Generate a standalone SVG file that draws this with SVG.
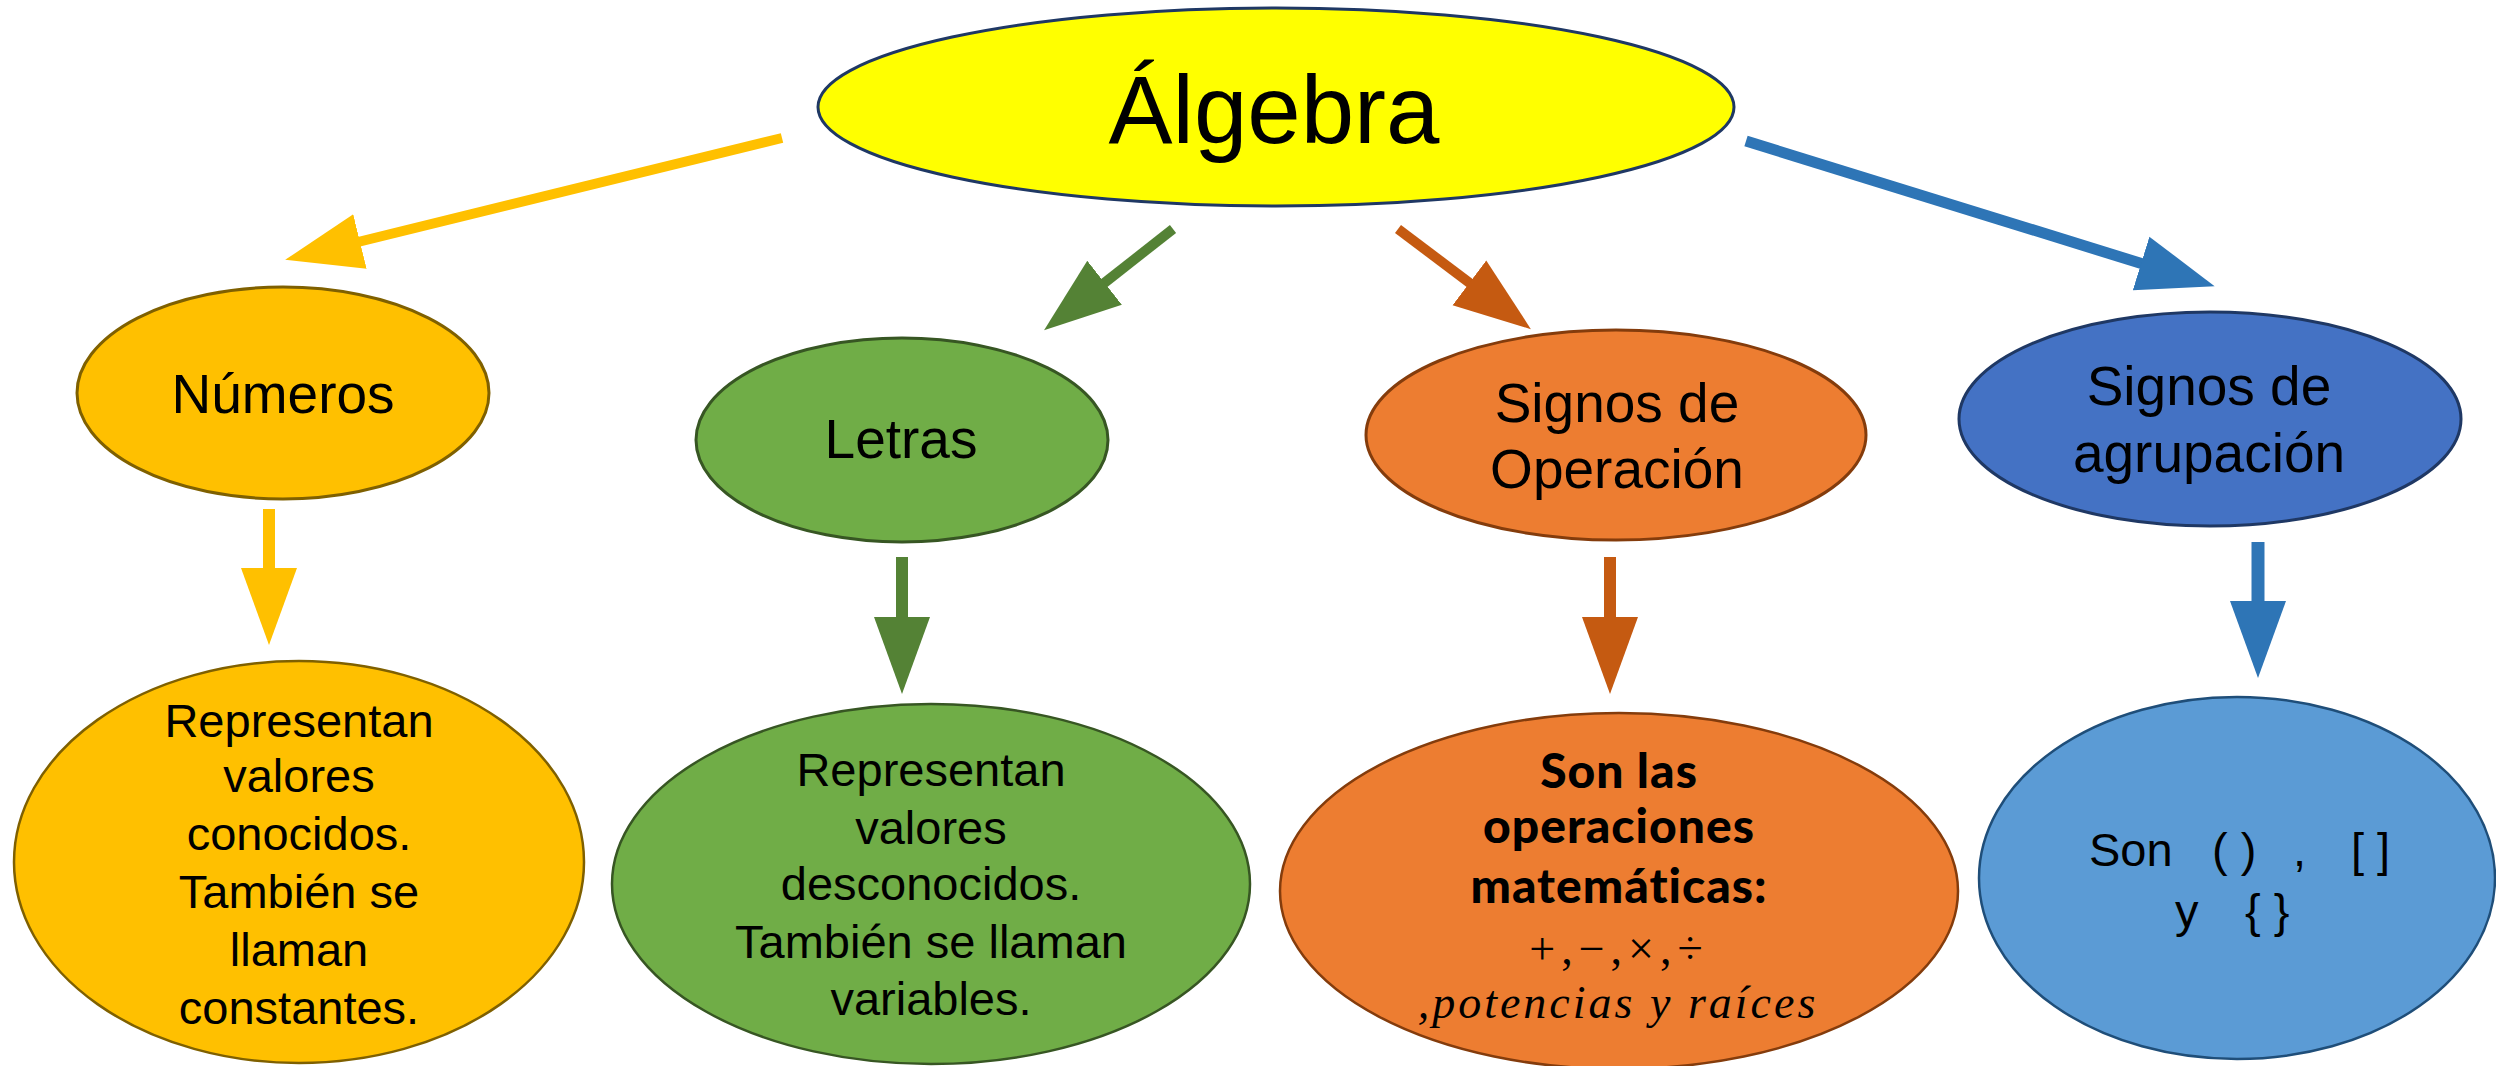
<svg xmlns="http://www.w3.org/2000/svg" width="2496" height="1066" viewBox="0 0 2496 1066">
<style>
.t{font-family:"Liberation Sans",Arial,sans-serif;fill:#000;text-anchor:middle}
.big{font-size:96px}
.mid{font-size:55px}
.sm{font-size:47px}
.bold{font-family:Lato,"Open Sans",sans-serif;font-weight:900;font-size:48px;letter-spacing:1px;fill:#000;text-anchor:middle}
.math{font-family:"Liberation Serif","DejaVu Serif",serif;font-size:46px;fill:#000;text-anchor:middle}
.conn line{fill:none;stroke-linecap:butt}
</style>
<defs>
<marker id="hY" markerUnits="userSpaceOnUse" markerWidth="80" markerHeight="60" viewBox="0 -30 80 60" refX="2" refY="0" orient="auto"><path d="M0,-28 L77,0 L0,28 z" fill="#FFC000"/></marker>
<marker id="hG" markerUnits="userSpaceOnUse" markerWidth="80" markerHeight="60" viewBox="0 -30 80 60" refX="2" refY="0" orient="auto"><path d="M0,-28 L77,0 L0,28 z" fill="#548235"/></marker>
<marker id="hO" markerUnits="userSpaceOnUse" markerWidth="80" markerHeight="60" viewBox="0 -30 80 60" refX="2" refY="0" orient="auto"><path d="M0,-28 L77,0 L0,28 z" fill="#C55A11"/></marker>
<marker id="hB" markerUnits="userSpaceOnUse" markerWidth="80" markerHeight="60" viewBox="0 -30 80 60" refX="2" refY="0" orient="auto"><path d="M0,-28 L77,0 L0,28 z" fill="#2E75B6"/></marker>
</defs>
<rect width="2496" height="1066" fill="#fff"/>

<g id="connectors" class="conn">
<line x1="782" y1="138" x2="358" y2="242" stroke="#FFC000" stroke-width="10" marker-end="url(#hY)"/>
<line x1="1173" y1="229" x2="1103" y2="284" stroke="#548235" stroke-width="10" marker-end="url(#hG)"/>
<line x1="1398" y1="229" x2="1471" y2="284" stroke="#C55A11" stroke-width="10" marker-end="url(#hO)"/>
<line x1="1746" y1="141" x2="2143" y2="264" stroke="#2E75B6" stroke-width="11" marker-end="url(#hB)"/>
<line x1="269" y1="509" x2="269" y2="570" stroke="#FFC000" stroke-width="12" marker-end="url(#hY)"/>
<line x1="902" y1="557" x2="902" y2="619" stroke="#548235" stroke-width="12" marker-end="url(#hG)"/>
<line x1="1610" y1="557" x2="1610" y2="619" stroke="#C55A11" stroke-width="12" marker-end="url(#hO)"/>
<line x1="2258" y1="542" x2="2258" y2="603" stroke="#2E75B6" stroke-width="13" marker-end="url(#hB)"/>
</g>

<g id="algebra">
<ellipse cx="1276" cy="107" rx="458" ry="99" fill="#FFFF00" stroke="#1F3864" stroke-width="3"/>
<text class="t big" x="1274" y="143">Álgebra</text>
</g>

<g id="numeros">
<ellipse cx="283" cy="393" rx="206" ry="106" fill="#FFC000" stroke="#7F6000" stroke-width="3"/>
<text class="t mid" x="283" y="413">Números</text>
</g>

<g id="letras">
<ellipse cx="902" cy="440" rx="206" ry="102" fill="#70AD47" stroke="#375623" stroke-width="3"/>
<text class="t mid" x="901" y="458">Letras</text>
</g>

<g id="signos-operacion">
<ellipse cx="1616" cy="435" rx="250" ry="105" fill="#ED7D31" stroke="#843C0C" stroke-width="3"/>
<text class="t mid" x="1617" y="422">Signos de</text>
<text class="t mid" x="1617" y="488">Operación</text>
</g>

<g id="signos-agrupacion">
<ellipse cx="2210" cy="419" rx="251" ry="107" fill="#4472C4" stroke="#1F3864" stroke-width="3"/>
<text class="t mid" x="2209" y="405">Signos de</text>
<text class="t mid" x="2209" y="472">agrupación</text>
</g>

<g id="constantes">
<ellipse cx="299" cy="862" rx="285" ry="201" fill="#FFC000" stroke="#7F6000" stroke-width="2.5"/>
<text class="t sm" x="299" y="737">Representan</text>
<text class="t sm" x="299" y="792">valores</text>
<text class="t sm" x="299" y="850">conocidos.</text>
<text class="t sm" x="299" y="908">También se</text>
<text class="t sm" x="299" y="966">llaman</text>
<text class="t sm" x="299" y="1024">constantes.</text>
</g>

<g id="variables">
<ellipse cx="931" cy="884" rx="319" ry="180" fill="#70AD47" stroke="#375623" stroke-width="2.5"/>
<text class="t sm" x="931" y="786">Representan</text>
<text class="t sm" x="931" y="844">valores</text>
<text class="t sm" x="931" y="900">desconocidos.</text>
<text class="t sm" x="931" y="958">También se llaman</text>
<text class="t sm" x="931" y="1015">variables.</text>
</g>

<g id="operaciones">
<ellipse cx="1619" cy="891" rx="339" ry="178" fill="#ED7D31" stroke="#843C0C" stroke-width="2.5"/>
<text class="bold" x="1619" y="788">Son las</text>
<text class="bold" x="1619" y="843">operaciones</text>
<text class="bold" x="1619" y="903">matemáticas:</text>
<text class="math" x="1619" y="964" letter-spacing="6">+,−,×,÷</text>
<text class="math" x="1618" y="1018" font-style="italic" letter-spacing="3">,potencias y raíces</text>
</g>

<g id="agrupacion">
<ellipse cx="2237" cy="878" rx="258" ry="181" fill="#5B9BD5" stroke="#1F4E79" stroke-width="2.5"/>
<text class="t sm" y="866" style="text-anchor:start"><tspan x="2089">Son</tspan><tspan x="2212">( )</tspan><tspan x="2293">,</tspan><tspan x="2351">[ ]</tspan></text>
<text class="t sm" y="927" style="text-anchor:start"><tspan x="2175">y</tspan><tspan x="2245">{ }</tspan></text>
</g>
</svg>
